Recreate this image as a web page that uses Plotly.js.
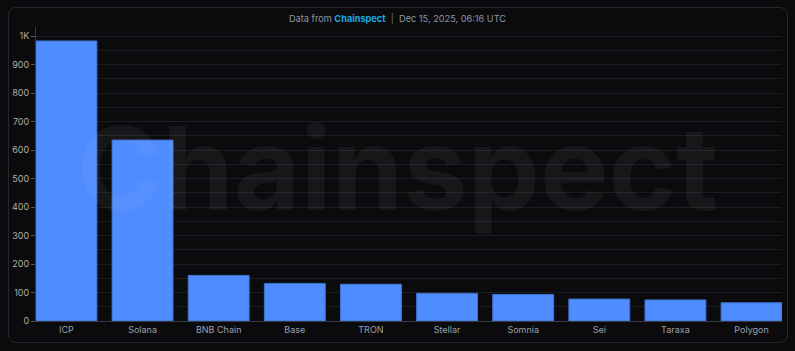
<!DOCTYPE html>
<html><head><meta charset="utf-8">
<script src="https://cdn.plot.ly/plotly-3.0.1.min.js"></script>
<style>
html,body{margin:0;padding:0;background:#0b0b0d;}
#wrap{position:relative;width:795px;height:351px;}
#chart{width:795px;height:351px;}
#frame{position:absolute;left:8px;top:7px;width:778px;height:334px;border:1px solid #26272c;border-radius:8px;pointer-events:none;}
</style></head>
<body>
<div id="wrap"><div id="chart"></div><div id="frame"></div></div>
<script>
const categories = ["ICP","Solana","BNB Chain","Base","TRON","Stellar","Somnia","Sei","Taraxa","Polygon"];
const values = [983, 635, 160, 132, 129, 97, 93, 77, 74, 64];
const yTickVals = [0,100,200,300,400,500,600,700,800,900,1000];
const yTickText = ["0","100","200","300","400","500","600","700","800","900","1K"];

const trace = {
  type: "bar",
  x: categories,
  y: values,
  marker: {color: "#4f8cff", line: {color: "#3f72cf", width: 1}},
  hoverinfo: "x+y"
};

const layout = {
  width: 795, height: 351,
  paper_bgcolor: "#0b0b0d",
  plot_bgcolor: "#0b0b0d",
  margin: {l: 36, r: 13, t: 27, b: 30},
  bargap: 0.2,
  showlegend: false,
  font: {family: "Inter, 'Open Sans', sans-serif", color: "#9aa0aa", size: 9},
  title: {
    text: "Data from <b><span style='color:#1aa9e0'>Chainspect</span></b>  <span style='color:#6b7280'>|</span>  Dec 15, 2025, 06:16 UTC",
    font: {size: 9.2, color: "#8e96a6", family: "Inter, 'Open Sans', sans-serif"},
    x: 0.5, xref: "container", xanchor: "center",
    y: 0.946, yref: "container", yanchor: "middle"
  },
  xaxis: {
    type: "category",
    range: [-0.4, 9.4],
    showgrid: false,
    showline: true, linecolor: "#363b46", linewidth: 1,
    ticks: "", tickfont: {size: 9, color: "#9aa0aa"},
    zeroline: false
  },
  yaxis: {
    range: [0, 1032],
    tickvals: yTickVals, ticktext: yTickText,
    showgrid: true, gridcolor: "#1c1d22", gridwidth: 1,
    minor: {dtick: 50, tick0: 0, showgrid: true, gridcolor: "#1c1d22", ticks: ""},
    showline: true, linecolor: "#3a3c42", linewidth: 1,
    ticks: "outside", ticklen: 4, tickcolor: "#55585f",
    tickfont: {size: 9, color: "#b3ada2"},
    zeroline: false
  },
  annotations: [{
    text: "<b>Chainspect</b>",
    xref: "paper", yref: "paper", x: 0.485, y: 0.52,
    xanchor: "center", yanchor: "middle",
    showarrow: false,
    font: {size: 115, color: "rgba(255,255,255,0.05)", family: "Inter, 'Open Sans', sans-serif"}
  }]
};

Plotly.newPlot("chart", [trace], layout, {displayModeBar: false, staticPlot: true});
</script>
</body></html>
